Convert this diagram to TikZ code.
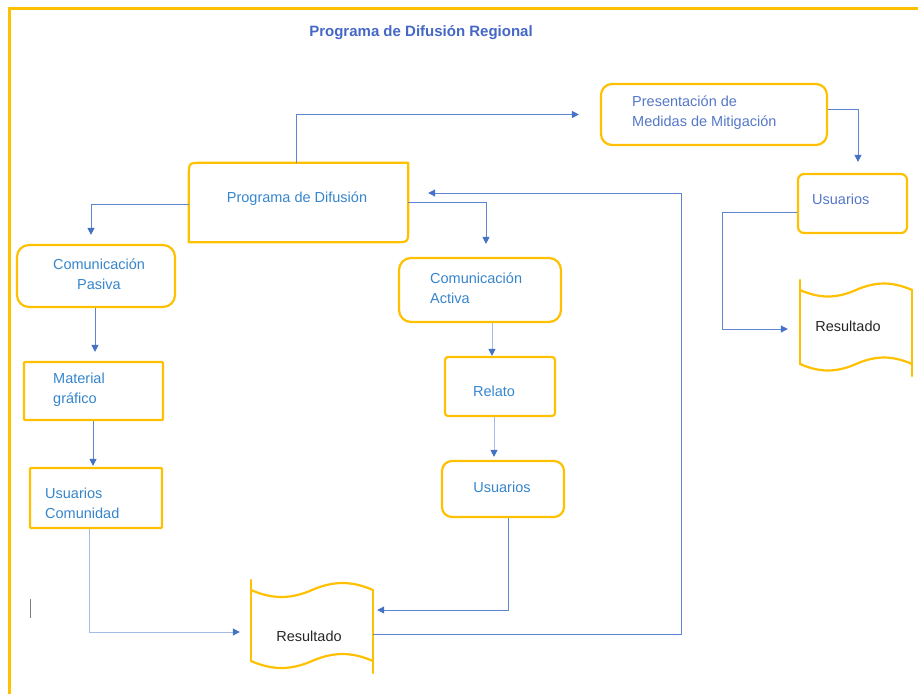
\documentclass[tikz,border=0pt]{standalone}
\usepackage{fontspec}
\setmainfont{Liberation Sans}
\usetikzlibrary{arrows.meta,calc}
\definecolor{boxyellow}{HTML}{FFC000}
\definecolor{linemid}{HTML}{5F84D2}
\definecolor{linelight}{HTML}{A6BCE8}
\definecolor{arrowblue}{HTML}{4472C4}
\definecolor{textblue}{HTML}{3685CC}
\definecolor{textbluetwo}{HTML}{5577C8}
\definecolor{titleblue}{HTML}{4468C4}
\definecolor{darktext}{HTML}{262626}
\newcommand\tapeshape[5]{%
  \draw[ybox] (#1,{#3-10}) -- (#1,#4);
  \draw[ybox] (#2,#3) -- (#2,{#4+12});
  \draw[ybox] (#1,#3) .. controls ({#1+0.175*(#2-#1)},{#3+1.33*#5}) and ({#1+0.325*(#2-#1)},{#3+1.33*#5}) .. ({(#1+#2)/2},#3)
     .. controls ({#1+0.675*(#2-#1)},{#3-1.33*#5}) and ({#1+0.825*(#2-#1)},{#3-1.33*#5}) .. (#2,#3);
  \draw[ybox] (#1,#4) .. controls ({#1+0.175*(#2-#1)},{#4+1.33*#5}) and ({#1+0.325*(#2-#1)},{#4+1.33*#5}) .. ({(#1+#2)/2},#4)
     .. controls ({#1+0.675*(#2-#1)},{#4-1.33*#5}) and ({#1+0.825*(#2-#1)},{#4-1.33*#5}) .. (#2,#4);
}
\begin{document}
\begin{tikzpicture}[x=1pt,y=-1pt,
  ybox/.style={draw=boxyellow, line width=2.2pt, line cap=round, line join=round},
  box/.style={ybox, inner sep=0pt},
  holder/.style={draw=none, inner sep=0pt},
  txt/.style={font=\fontsize{14.5}{20}\selectfont, text=textblue, inner sep=0pt, align=left},
  conn/.style={draw=linemid, line width=1pt, -{Triangle[length=7pt,width=7pt,color=arrowblue]}},
  connlight/.style={conn, draw=linelight}]
\useasboundingbox (0,0) rectangle (918,694);
% outer frame
\draw[boxyellow, line width=2.3pt] (9.5,694) -- (9.5,8.5) -- (918,8.5);
\draw[gray, line width=1pt] (30,599) -- (30,618);

% title
\node[font=\fontsize{15}{18}\selectfont\bfseries, text=titleblue, inner sep=0pt] (title) at (421,33) {Programa de Difusión Regional};

% boxes
\node[holder, minimum width=219pt, minimum height=79pt] (pd) at (298.5,202.5) {};
\draw[ybox] ([yshift=-13pt]pd.north west) .. controls (pd.north west) .. ([xshift=13pt]pd.north west)
   -- (pd.north east) -- ([yshift=13pt]pd.south east) .. controls (pd.south east) .. ([xshift=-13pt]pd.south east)
   -- (pd.south west) -- cycle;
\node[box, rounded corners=11pt, minimum width=226pt, minimum height=61pt] (pres) at (714,114.5) {};
\node[box, rounded corners=6pt, minimum width=109pt, minimum height=59pt] (usr) at (852.5,203.5) {};
\node[box, rounded corners=12pt, minimum width=158pt, minimum height=62pt] (cp) at (96,276) {};
\node[box, rounded corners=1pt, minimum width=139pt, minimum height=58pt] (mg) at (93.5,391) {};
\node[box, rounded corners=1pt, minimum width=132pt, minimum height=60pt] (uc) at (96,498) {};
\node[box, rounded corners=12pt, minimum width=162pt, minimum height=64pt] (ca) at (480,290) {};
\node[box, rounded corners=3pt, minimum width=110pt, minimum height=59pt] (rel) at (500,386.5) {};
\node[box, rounded corners=10pt, minimum width=122pt, minimum height=56pt] (um) at (503,489) {};
\node[holder, minimum width=122pt, minimum height=90pt] (res1) at (312,626) {};
\tapeshape{251}{373}{590}{661}{7}
\node[holder, minimum width=112pt, minimum height=92pt] (res2) at (856,329) {};
\tapeshape{800}{912}{290}{364}{6.5}

% texts
\node[txt] (tpd) at (297,199) {Programa de Difusión};
\node[txt, text=textbluetwo, anchor=west] (tpres) at (632,112.5) {Presentación de\\Medidas de Mitigación};
\node[txt, text=textbluetwo, anchor=west] (tusr) at (812,199) {Usuarios};
\node[txt, align=center] (tcp) at (99,274) {Comunicación\\Pasiva};
\node[txt, anchor=west] (tmg) at (53,390) {Material\\gráfico};
\node[txt, anchor=west] (tuc) at (45,503) {Usuarios\\Comunidad};
\node[txt, anchor=west] (tca) at (430,288) {Comunicación\\Activa};
\node[txt] (trel) at (494,391) {Relato};
\node[txt] (tum) at (502,487) {Usuarios};
\node[txt, text=darktext] (tres1) at (309,636) {Resultado};
\node[txt, text=darktext] (tres2) at (848,326) {Resultado};

% connectors
\draw[conn, shorten >=21pt] ([xshift=-2.5pt]pd.north) |- (pres.west);
\draw[conn, shorten >=9pt] ([yshift=-1.5pt]pd.west) -| ([xshift=-5pt]cp.north);
\draw[conn, shorten >=13pt] ([yshift=0.5pt]pd.east) -| ([xshift=6pt]ca.north);
\coordinate (fb) at (681,193);
\draw[conn, shorten >=20pt] ([yshift=-8pt]res1.east) -| (fb) -- ([yshift=9.5pt]pd.east);
\draw[conn, shorten >=4pt] ([xshift=5pt]um.south) |- ([yshift=16pt]res1.east);
\draw[connlight, shorten >=11pt] ([xshift=-7pt]uc.south) |- ([yshift=-6pt]res1.west);
\draw[conn, shorten >=9pt] ([xshift=-1pt]cp.south) -- ([xshift=-1pt]cp.south |- mg.north);
\draw[conn, shorten >=1pt] ([xshift=-0.5pt]mg.south) -- ([xshift=-0.5pt]mg.south |- uc.north);
\draw[connlight] ([xshift=12pt]ca.south) -- ([xshift=12pt]ca.south |- rel.north);
\draw[connlight, shorten >=3pt] ([xshift=-6pt]rel.south) -- ([xshift=-6pt]rel.south |- um.north);
\draw[conn, shorten >=11pt] ([yshift=5.5pt]pres.east) -| ([xshift=5.5pt]usr.north);
\coordinate (lc) at (722,212);
\draw[conn, shorten >=12pt] ([yshift=-8.5pt]usr.west) -- (lc) |- (res2.west);
\end{tikzpicture}
\end{document}
